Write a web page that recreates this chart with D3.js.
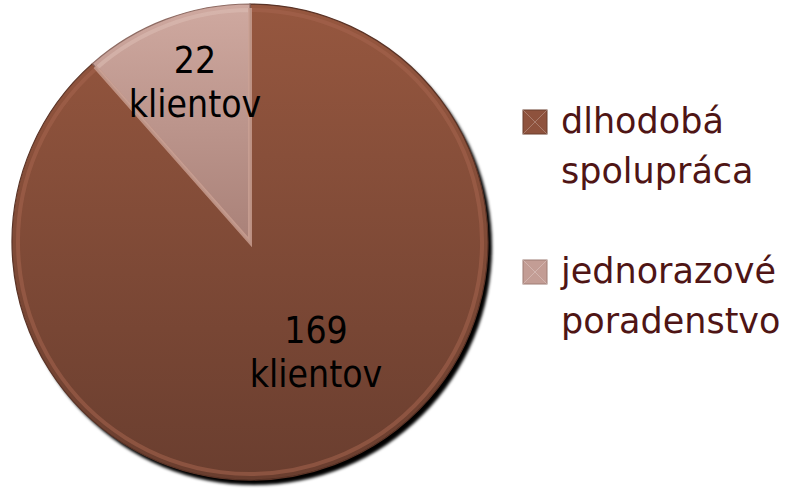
<!DOCTYPE html>
<html>
<head>
<meta charset="utf-8">
<script src="https://cdn.jsdelivr.net/npm/d3@7"></script>
<style>
  body { margin: 0; background: #fff; }
  svg { display: block; }
</style>
</head>
<body>
<div id="chart"></div>
<script>
// data
var categories = ['dlhodobá spolupráca', 'jednorazové poradenstvo'];
var values = [169, 22];
var sliceLabels = ['169 klientov', '22 klientov'];

var width = 792, height = 489;
var cx = 250, cy = 242, radius = 238;

var svg = d3.select('#chart').append('svg')
  .attr('width', width)
  .attr('height', height);

var defs = svg.append('defs');

// gradients for the two slices
var grads = [
  {id: 'g0', top: '#96573F', bottom: '#6A3E2F'},
  {id: 'g1', top: '#CFA9A0', bottom: '#A98178'}
];
grads.forEach(function(g) {
  var lg = defs.append('linearGradient')
    .attr('id', g.id)
    .attr('x1', 0).attr('y1', 0).attr('x2', 0).attr('y2', 1);
  lg.append('stop').attr('offset', '0%').attr('stop-color', g.top);
  lg.append('stop').attr('offset', '100%').attr('stop-color', g.bottom);
});

defs.append('filter').attr('id', 'blur')
  .append('feGaussianBlur').attr('stdDeviation', 1.5);

var legendColors = ['#8E523D', '#C39D95'];

var g = svg.append('g')
  .attr('transform', 'translate(' + cx + ',' + cy + ')');

// shadow
g.append('circle')
  .attr('cx', 4).attr('cy', 5)
  .attr('r', radius)
  .attr('fill', '#000')
  .attr('filter', 'url(#blur)');

var pie = d3.pie().sort(null).value(function(d) { return d; });
var arc = d3.arc().innerRadius(0).outerRadius(radius);
var innerArc = d3.arc().innerRadius(0).outerRadius(radius - 6);

var arcs = pie(values);

g.selectAll('path.slice')
  .data(arcs)
  .enter().append('path')
  .attr('class', 'slice')
  .attr('d', arc)
  .attr('fill', function(d, i) { return 'url(#g' + i + ')'; })
  .attr('stroke', function(d, i) { return i === 0 ? '#5A3326' : '#8E6B63'; })
  .attr('stroke-width', 1.2);

// bevel highlight
g.selectAll('path.bevel')
  .data(arcs)
  .enter().append('path')
  .attr('class', 'bevel')
  .attr('d', innerArc)
  .attr('fill', 'none')
  .attr('stroke', function(d, i) { return i === 0 ? '#A5654E' : '#DDBDB5'; })
  .attr('stroke-width', 4)
  .attr('stroke-opacity', 0.55);

// slice labels
var labelPos = [
  {x: 66, y: 101},
  {x: -55, y: -169}
];
g.selectAll('text.lbl')
  .data(arcs)
  .enter().append('text')
  .attr('class', 'lbl')
  .attr('text-anchor', 'middle')
  .attr('font-family', 'DejaVu Sans')
  .attr('font-stretch', 'condensed')
  .attr('font-size', 37)
  .attr('fill', '#000')
  .each(function(d, i) {
    var parts = sliceLabels[i].split(' ');
    var t = d3.select(this);
    t.append('tspan').attr('x', labelPos[i].x).attr('y', labelPos[i].y).text(parts[0]);
    t.append('tspan').attr('x', labelPos[i].x).attr('y', labelPos[i].y + 44).text(parts[1]);
  });

// legend
var legend = svg.selectAll('g.legend')
  .data(categories)
  .enter().append('g')
  .attr('class', 'legend')
  .attr('transform', function(d, i) { return 'translate(523,' + (110 + i * 150) + ')'; });

legend.append('rect')
  .attr('width', 24).attr('height', 24)
  .attr('fill', function(d, i) { return legendColors[i]; })
  .attr('stroke', function(d, i) { return i === 0 ? '#6A3E2F' : '#9E7C74'; })
  .attr('stroke-width', 1);

legend.append('path')
  .attr('d', 'M0,0L24,24M24,0L0,24')
  .attr('stroke', '#fff')
  .attr('stroke-opacity', 0.25)
  .attr('stroke-width', 1);

legend.append('text')
  .attr('font-family', 'DejaVu Sans')
  .attr('font-size', 35)
  .attr('fill', '#4F1515')
  .each(function(d) {
    var parts = d.split(' ');
    var t = d3.select(this);
    t.append('tspan').attr('x', 38).attr('y', 23).text(parts[0]);
    t.append('tspan').attr('x', 38).attr('y', 73).text(parts[1]);
  });
</script>
</body>
</html>
